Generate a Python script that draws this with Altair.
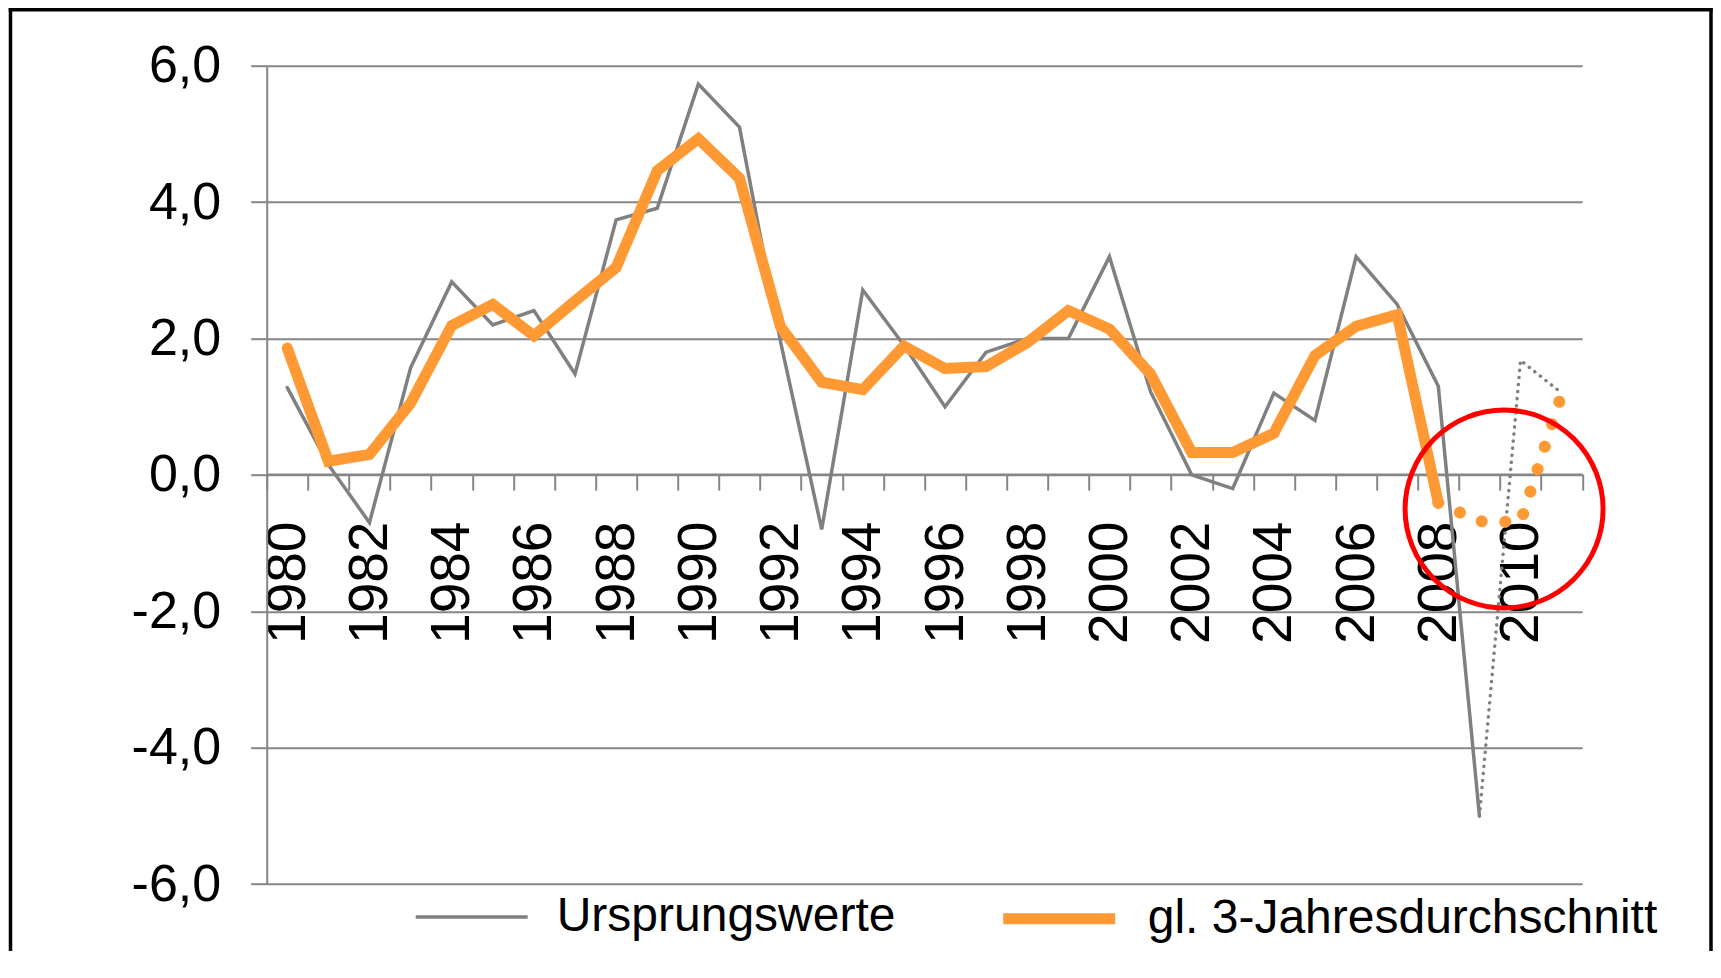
import altair as alt
import pandas as pd

# ---------------- data ----------------
years = list(range(1980, 2012))
ursprungswerte = [1.28, 0.15, -0.70, 1.57, 2.83, 2.20, 2.41, 1.48, 3.74, 3.91,
                  5.73, 5.10, 1.95, -0.80, 2.71, 1.90, 1.00, 1.80, 2.00, 2.00,
                  3.20, 1.22, 0.00, -0.20, 1.20, 0.80, 3.20, 2.50, 1.30, -5.00,
                  1.68, 1.20]
durchschnitt = [1.86, 0.20, 0.30, 1.05, 2.19, 2.50, 2.04, 2.55, 3.04, 4.46,
                4.93, 4.35, 2.17, 1.36, 1.25, 1.89, 1.56, 1.59, 1.94, 2.41,
                2.14, 1.48, 0.33, 0.33, 0.61, 1.75, 2.18, 2.35, -0.41, -0.68,
                -0.69, 1.18]
series_names = ["Ursprungswerte", "gl. 3-Jahresdurchschnitt"]
series_colors = ["#808080", "#FF9933"]
series_widths = [3.5, 11]
last_solid = {"Ursprungswerte": 2009, "gl. 3-Jahresdurchschnitt": 2008}
y_ticks = [-6, -4, -2, 0, 2, 4, 6]

# annotation circle (red) around the crisis years
highlight_year = [2009.6]
highlight_value = [-0.50]

# ---------------- tables ----------------
rows_solid, rows_gray_dot, rows_orange_dot = [], [], []
for name, vals in zip(series_names, [ursprungswerte, durchschnitt]):
    for yr, v in zip(years, vals):
        if yr <= last_solid[name]:
            rows_solid.append({"year": yr, "value": v, "series": name})
        if yr >= last_solid[name]:
            target = rows_gray_dot if name == series_names[0] else rows_orange_dot
            target.append({"year": yr, "value": v, "series": name})
df_solid = pd.DataFrame(rows_solid)
df_gray_dot = pd.DataFrame(rows_gray_dot)
df_orange_dot = pd.DataFrame(rows_orange_dot)
df_circle = pd.DataFrame({"pos": highlight_year, "value": highlight_value})

FONT = "Liberation Sans"
GRID = "#868686"
PLOT_W = 1315.5
PLOT_H = 818.4
PAD = {"left": 258.7, "top": 57.7, "right": 130.8, "bottom": 78.9}

x_enc = alt.X(
    "year:O",
    bandPosition=0.5,
    scale=alt.Scale(type="band", domain=years, paddingInner=0, paddingOuter=0),
    axis=alt.Axis(
        title=None,
        tickBand="extent",
        offset=-PLOT_H / 2 - 0.8,
        labelExpr="datum.value % 2 == 0 ? datum.label : ''",
        labelAngle=270,
        labelFontSize=55,
        labelFont=FONT,
        labelColor="black",
        labelPadding=31,
        labelOverlap=False,
        tickSize=16,
        tickColor=GRID,
        tickWidth=2,
        domainColor=GRID,
        domainWidth=2,
        grid=False,
    ),
)

y_enc = alt.Y(
    "value:Q",
    scale=alt.Scale(domain=[-6, 6], nice=False, zero=False),
    axis=alt.Axis(
        title=None,
        values=y_ticks,
        labelExpr="(datum.value < 0 ? '-' : '') + replace(format(abs(datum.value), '.1f'), '.', ',')",
        labelFontSize=52,
        labelFont=FONT,
        labelColor="black",
        labelPadding=30,
        tickSize=16,
        tickColor=GRID,
        tickWidth=2,
        domainColor=GRID,
        domainWidth=2,
        grid=True,
        gridColor=GRID,
        gridWidth=2,
    ),
)

legend = alt.Legend(
    title=None,
    orient="none",
    legendX=147.0,
    legendY=791.3,
    direction="horizontal",
    symbolType="stroke",
    symbolSize=112 ** 2,
    labelFontSize=48,
    labelFont=FONT,
    labelColor="black",
    labelLimit=0,
    labelOffset=27,
    columnPadding=85,
    padding=0,
)

solid = alt.Chart(df_solid).mark_line(strokeCap="round").encode(
    x=x_enc,
    y=y_enc,
    color=alt.Color(
        "series:N",
        scale=alt.Scale(domain=series_names, range=series_colors),
        legend=legend,
    ),
    strokeWidth=alt.StrokeWidth(
        "series:N",
        scale=alt.Scale(type="ordinal", domain=series_names, range=series_widths),
        legend=legend,
    ),
    order="year:O",
)

gray_dot = alt.Chart(df_gray_dot).mark_line(
    color=series_colors[0], strokeWidth=3.5, strokeDash=[0.1, 7], strokeCap="round"
).encode(x=x_enc, y=y_enc)

orange_dot = alt.Chart(df_orange_dot).mark_line(
    color=series_colors[1], strokeWidth=12, strokeDash=[0.1, 23.5], strokeCap="round"
).encode(x=x_enc, y=y_enc)

lines = alt.layer(solid, gray_dot, orange_dot)

circle = alt.Chart(df_circle).mark_point(
    shape="circle", filled=False, color="#FF0000", strokeWidth=5, opacity=1,
    size=198 ** 2,
).encode(
    x=alt.X("pos:Q", scale=alt.Scale(domain=[1979.5, 2011.5], nice=False, zero=False), axis=None),
    y=y_enc,
)

# outer black frame of the picture (left, top and right edge; bottom is cut off)
frame_src = alt.Data(values=[{"k": 1}])
frame_bottom = PLOT_H + PAD["bottom"] - 12
frame_right_x = PLOT_W + PAD["right"] - 2.0
frame_left = alt.Chart(frame_src).mark_rule(color="black", strokeWidth=3.5).encode(
    x=alt.value(-256.2), y=alt.value(-58.0), y2=alt.value(frame_bottom)
)
frame_right = alt.Chart(frame_src).mark_rule(color="black", strokeWidth=3.5).encode(
    x=alt.value(frame_right_x), y=alt.value(-58.0), y2=alt.value(frame_bottom)
)
frame_top = alt.Chart(frame_src).mark_rule(color="black", strokeWidth=3.5).encode(
    x=alt.value(-258.0), x2=alt.value(frame_right_x + 1.7), y=alt.value(-56.0)
)

chart = (
    alt.layer(lines, circle, frame_left, frame_right, frame_top)
    .resolve_scale(x="independent")
    .properties(
        width=PLOT_W,
        height=PLOT_H,
        autosize=alt.AutoSizeParams(type="none"),
        padding=PAD,
        background="white",
    )
    .configure_view(stroke=None)
)

chart.save("out.html", embed_options={"renderer": "svg", "actions": False})
